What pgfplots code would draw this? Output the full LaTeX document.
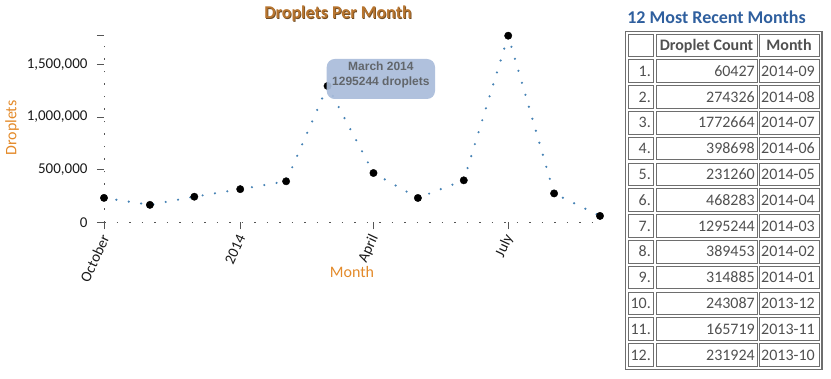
\documentclass[border=0pt]{standalone}
\usepackage{fontspec}
\setmainfont{Carlito}
\newfontfamily\tipfont{Liberation Sans}
\usepackage{pgfplots}
\pgfplotsset{compat=1.18}
\usepackage{pgfplotstable}
\definecolor{linecol}{HTML}{4682B4}
\definecolor{titlecol}{HTML}{B8752F}
\definecolor{titleshadow}{HTML}{6E4A22}
\definecolor{labcol}{HTML}{E38A2A}
\definecolor{tabtitle}{HTML}{2F5F9E}
\definecolor{tabtext}{HTML}{505050}
\definecolor{tabline}{HTML}{6E6E6E}
\definecolor{tipfill}{HTML}{A9BCDA}
\definecolor{tiptext}{HTML}{62666B}
\definecolor{axcol}{HTML}{555555}
\definecolor{ticktext}{HTML}{1A1A1A}

% days since 2013-10-01, droplet count
\pgfplotstableread{
day count
0 231924
31 165719
61 243087
92 314885
123 389453
151 1295244
182 468283
212 231260
243 398698
273 1772664
304 274326
335 60427
}\monthly

\begin{document}
\begin{tikzpicture}[x=1pt,y=1pt]
\useasboundingbox (0,0) rectangle (831,378);

\begin{axis}[
  at={(104pt,155.7pt)}, anchor=origin,
  scale only axis, width=496pt, height=186.6pt,
  xmin=0, xmax=335, ymin=0, ymax=1772664,
  axis x line*=bottom, axis y line*=left,
  axis line style={draw=axcol, line width=0.9pt, dash pattern=on 1.6pt off 10.9pt},
  clip=false,
  xtick={0,92,182,273},
  xticklabels={October,2014,April,July},
  ytick={0,500000,1000000,1500000},
  extra y ticks={1772664},
  extra y tick labels={},
  scaled y ticks=false,
  /pgf/number format/assume math mode=true,
  /pgf/number format/fixed,
  /pgf/number format/1000 sep={,},
  tick align=outside,
  major tick length=7pt,
  tick style={draw=axcol, line width=0.8pt, solid},
  every tick label/.append style={font=\fontsize{15}{17}\selectfont, text=ticktext},
  y tick label style={xshift=-6pt},
  x tick label style={yshift=-5pt, xshift=2pt, rotate=65, anchor=east, inner sep=1.5pt},
]
\addplot[linecol, line width=2.4pt, line cap=round, dash pattern=on 0pt off 12.5pt] table[x=day,y=count] {\monthly};
\addplot[only marks, mark=*, mark size=3.7pt, black] table[x=day,y=count] {\monthly};
\end{axis}

% chart title with shadow
\node[text=titleshadow, font=\fontsize{18}{21}\selectfont\bfseries] at (338.8,363.3) {Droplets Per Month};
\node[text=titlecol, font=\fontsize{18}{21}\selectfont\bfseries] at (338,364) {Droplets Per Month};

% axis labels
\node[text=labcol, rotate=90, font=\fontsize{16}{19}\selectfont] at (12,250) {Droplets};
\node[text=labcol, font=\fontsize{16}{19}\selectfont] at (352,106) {Month};

% tooltip
\fill[tipfill, fill opacity=0.92, rounded corners=8pt] (326.7,279) rectangle (435,319);
\node[text=tiptext, font=\tipfont\fontsize{12}{14}\selectfont\bfseries] at (380.9,311.3) {March 2014};
\node[text=tiptext, font=\tipfont\fontsize{12}{14}\selectfont\bfseries] at (380.9,295.7) {1295244 droplets};

% table title
\node[text=tabtitle, font=\fontsize{18}{21}\selectfont\bfseries] at (716.5,361) {12 Most Recent Months};

% table
\draw[tabline, line width=1.2pt] (625.7,346.3) rectangle (822,8.5);
\foreach \i in {0,...,12} {
  \pgfmathsetmacro{\yt}{344-25.8*\i}
  \pgfmathsetmacro{\yb}{\yt-22.7}
  \draw[tabline, line width=0.8pt] (628,\yt) rectangle (653,\yb);
  \draw[tabline, line width=0.8pt] (656,\yt) rectangle (757,\yb);
  \draw[tabline, line width=0.8pt] (759,\yt) rectangle (819.5,\yb);
}
\node[text=tabtext, font=\fontsize{16}{19}\selectfont\bfseries, anchor=base] at (706.5,327.5) {Droplet Count};
\node[text=tabtext, font=\fontsize{16}{19}\selectfont\bfseries, anchor=base] at (789,327.5) {Month};
\foreach \i/\c/\m in {1/60427/2014-09, 2/274326/2014-08, 3/1772664/2014-07, 4/398698/2014-06,
  5/231260/2014-05, 6/468283/2014-04, 7/1295244/2014-03, 8/389453/2014-02,
  9/314885/2014-01, 10/243087/2013-12, 11/165719/2013-11, 12/231924/2013-10} {
  \pgfmathsetmacro{\yc}{344-25.8*\i-11.35-5.2}
  \node[text=tabtext, font=\fontsize{16}{19}\selectfont, anchor=base east, inner sep=0pt] at (651,\yc) {\i.};
  \node[text=tabtext, font=\fontsize{16}{19}\selectfont, anchor=base east, inner sep=0pt] at (755,\yc) {\c};
  \node[text=tabtext, font=\fontsize{16}{19}\selectfont, anchor=base west, inner sep=0pt] at (761,\yc) {\m};
}
\end{tikzpicture}
\end{document}
